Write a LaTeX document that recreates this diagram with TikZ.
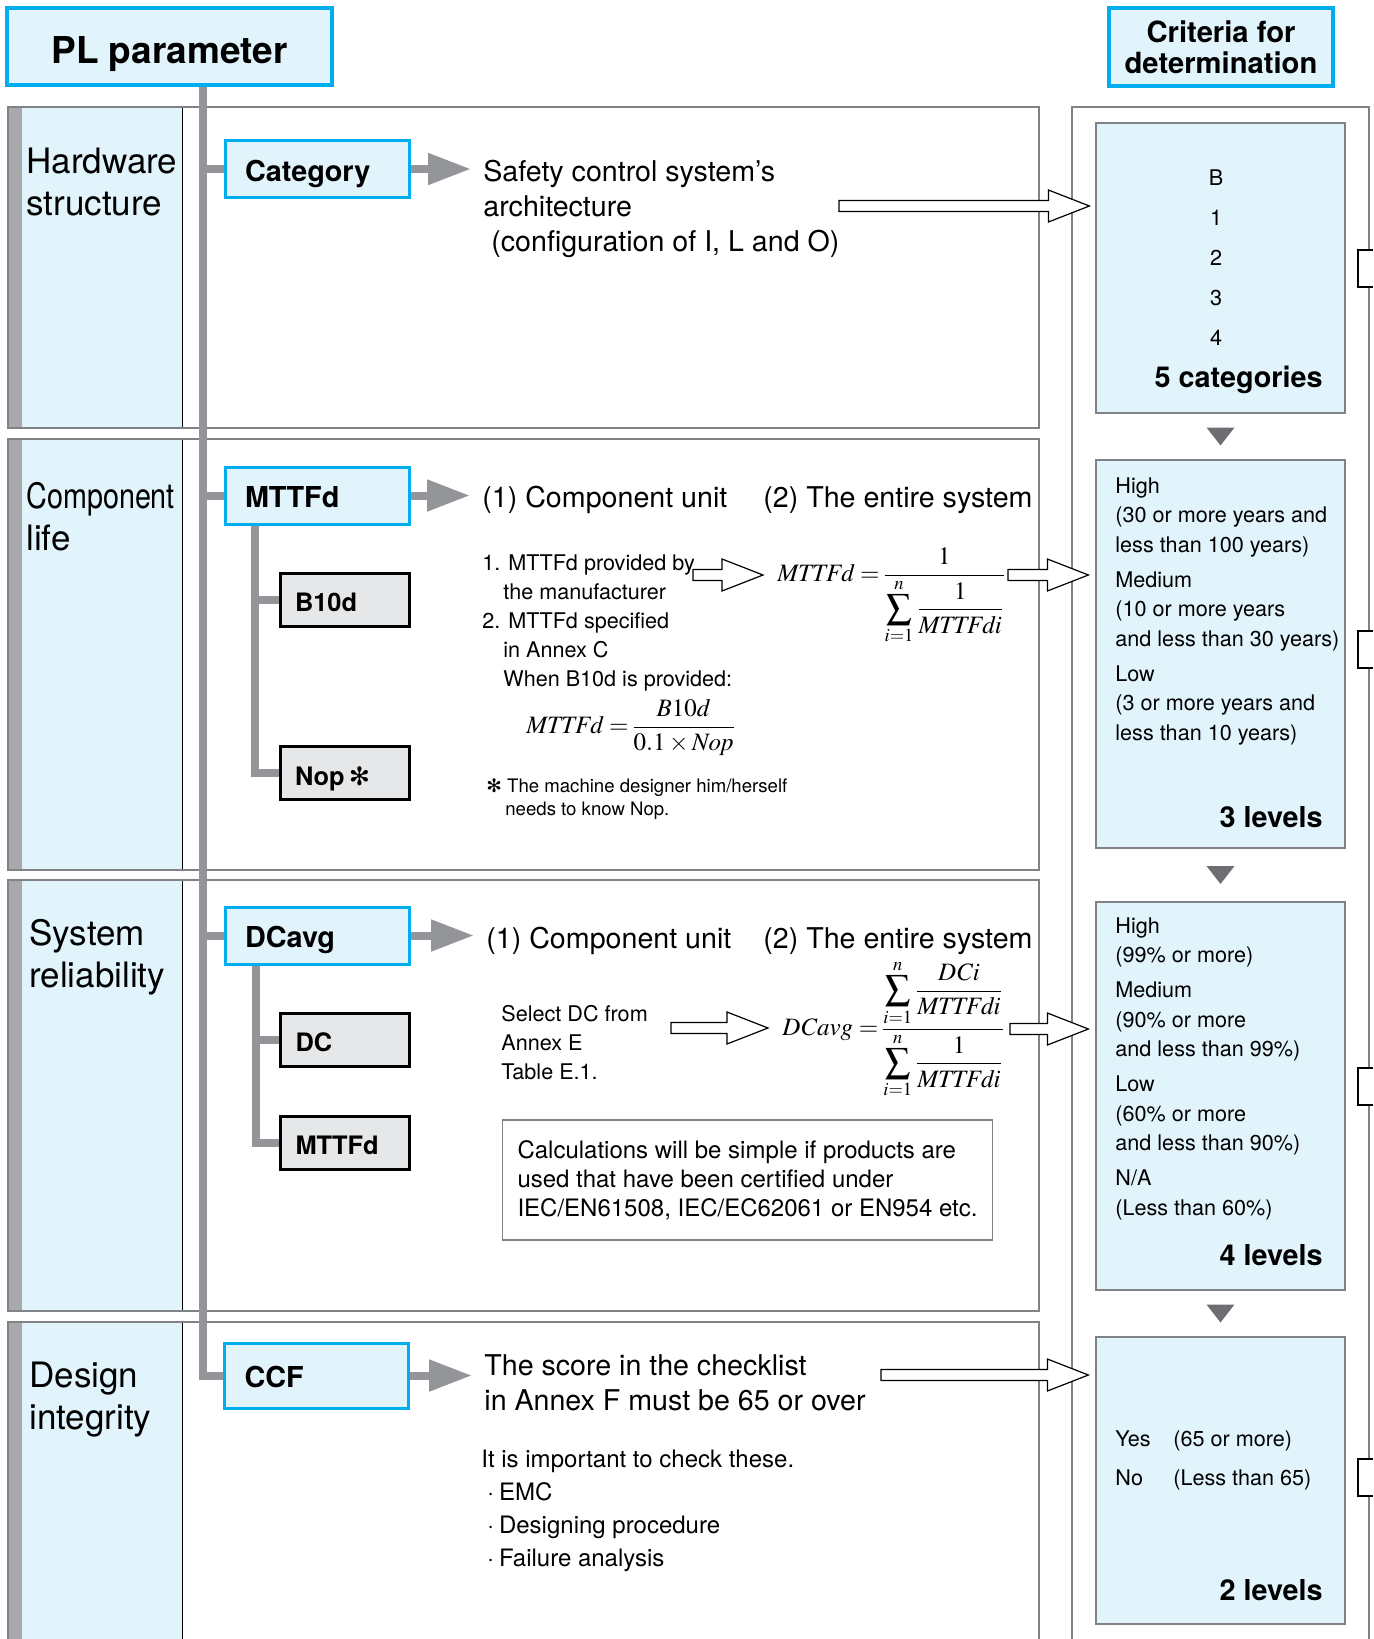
\documentclass[tikz,border=0pt]{standalone}
\usepackage{amsmath}
\usepackage{mathptmx}
\usepackage[no-math]{fontspec}
\setmainfont{TeX Gyre Heros}
\newfontfamily\symfont{DejaVu Sans}
\usepackage{graphicx}
\usetikzlibrary{arrows.meta,calc,backgrounds}

\definecolor{plcyan}{RGB}{0,174,239}
\definecolor{plfill}{RGB}{225,243,251}
\definecolor{bargray}{RGB}{167,169,172}
\definecolor{trunkgray}{RGB}{147,149,152}
\definecolor{boxgray}{RGB}{230,231,232}
\definecolor{framegray}{RGB}{128,130,133}
\definecolor{trigray}{RGB}{109,110,113}

\tikzset{
  headbox/.style={draw=plcyan, line width=1.75pt, fill=plfill, font=\fontsize{18.5}{21}\selectfont\bfseries},
  parbox/.style={draw=plcyan, line width=1.5pt, fill=plfill, font=\fontsize{14.4}{17}\selectfont\bfseries,
    text width=72pt, align=left, inner xsep=10pt, minimum height=28.5pt, text height=12pt, text depth=0pt},
  subbox/.style={draw=black, line width=1.5pt, fill=boxgray, font=\fontsize{12.7}{15}\selectfont\bfseries,
    text width=49.5pt, align=left, inner xsep=7.5pt, minimum height=26.5pt, text height=12pt, text depth=0pt},
  critbox/.style={draw=framegray, line width=0.6pt, fill=plfill, minimum width=124.5pt},
  crittext/.style={font=\fontsize{10.8}{14.75}\selectfont, inner sep=0pt},
  rowlabel/.style={font=\fontsize{17.5}{21}\selectfont, align=left, anchor=north west, inner sep=0pt},
  bigtext/.style={font=\fontsize{14.3}{17.5}\selectfont, align=left, anchor=north west, inner sep=0pt},
  bigline/.style={font=\fontsize{14.3}{17.5}\selectfont, anchor=base west, inner sep=0pt},
  midtext/.style={font=\fontsize{12}{16.5}\selectfont, align=left, anchor=north west, inner sep=0pt},
  smalltext/.style={font=\fontsize{10.8}{14.5}\selectfont, align=left, anchor=north west, inner sep=0pt},
  foot/.style={font=\fontsize{9.3}{11.5}\selectfont, align=left, anchor=north west, inner sep=0pt},
  formula/.style={font=\fontsize{12.5}{15}\selectfont, anchor=base west, inner sep=0pt},
  levels/.style={font=\fontsize{14.4}{17}\selectfont\bfseries, anchor=base east, inner sep=0pt},
  notebox/.style={draw=framegray, line width=0.6pt, font=\fontsize{12}{14.5}\selectfont, align=left,
    minimum width=244.5pt, minimum height=60pt, inner xsep=7.5pt},
  trunk/.style={draw=trunkgray, line width=4pt},
  grayarrow/.style={trunkgray, line width=4pt, -{Triangle[length=21.5pt,width=15pt]}, shorten >=6pt},
  hollow/.style={draw=black, fill=white, line width=0.6pt},
}

% hollow block arrow: [gap before the end]{start}{end}
\newcommand\hollowarrow[3][3pt]{%
  \draw[hollow] let \p1=#2, \p2=#3 in
    (\x1,\y1+2.75pt) -- (\x2-#1-20.5pt,\y1+2.75pt) -- (\x2-#1-20.5pt,\y1+8pt)
    -- (\x2-#1,\y1) -- (\x2-#1-20.5pt,\y1-8pt) -- (\x2-#1-20.5pt,\y1-2.75pt)
    -- (\x1,\y1-2.75pt) -- cycle;}
\newcommand\eq{\;{=}\,}

\begin{document}
\begin{tikzpicture}[x=0.5pt,y=-0.5pt]
\useasboundingbox (0,0) rectangle (1373,1639);

% headings
\node[headbox, minimum width=162.5pt, minimum height=38.5pt, text height=16.5pt, text depth=0pt] (pl) at (169.5,46.5) {PL parameter};
\node[headbox, font=\fontsize{14.6}{15.5}\selectfont\bfseries, align=center, minimum width=112pt, minimum height=39pt, inner sep=0pt] (crit) at (1221,47) {Criteria for\\determination};

% parameters
\node[parbox] (cat) at (317,169) {Category};
\node[parbox] (mttf) at (317,495.5) {MTTFd};
\node[parbox] (dcavg) at (317,935.5) {DCavg};
\node[parbox, minimum height=32.5pt] (ccf) at (316.5,1375.5) {CCF};
\node[subbox] (b10d) at (344.5,599.5) {B10d};
\node[subbox] (nop) at (344.5,773) {Nop\,{\symfont ✻}};
\node[subbox] (dc) at (345,1039.5) {DC};
\node[subbox] (mttfb) at (345,1142.5) {MTTFd};

% row labels
\node[rowlabel] (lab1) at (26,147.5) {Hardware\\structure};
\node[rowlabel] (lab2) at (26,481.5) {\scalebox{0.82}[1]{Component}\\life};
\node[rowlabel] (lab3) at (29,918.5) {System\\reliability};
\node[rowlabel] (lab4) at (29,1361.5) {Design\\integrity};

% hardware structure
\node[bigtext] (archi) at (483,159.3) {Safety control system's\\architecture\\\hspace*{4pt}(configuration of I, L and O)};
\coordinate (q1) at (839,206);

% component life
\node[bigline] (unit1) at (482,507) {(1) Component unit};
\node[bigline] (sys1) at (763,507) {(2) The entire system};
\node[smalltext] (given) at (482,554.2) {1. MTTFd provided by\\\hspace*{10.5pt}the manufacturer\\2. MTTFd specified\\\hspace*{10.5pt}in Annex C\\\hspace*{10.5pt}When B10d is provided:};
\node[formula] (f1) at (526,733.5) {$\mathit{MTTFd}\eq\dfrac{B10d}{0.1\times \mathit{Nop}}$};
\node[foot] (note1) at (486,778.4) {{\symfont ✻} The machine designer him/herself\\\hspace*{9.5pt}needs to know Nop.};
\node[formula] (f2) at (777,581.5) {$\mathit{MTTFd}\eq\dfrac{1}{\displaystyle\sum_{i=1}^{n}\frac{1}{\mathit{MTTFdi}}}$};
\coordinate (q2) at (693,575);
\coordinate (q3) at (1008,575);

% system reliability
\node[bigline] (unit2) at (486,948) {(1) Component unit};
\node[bigline] (sys2) at (763,948) {(2) The entire system};
\node[smalltext] (select) at (501,1005.2) {Select DC from\\Annex E\\Table E.1.};
\node[formula] (f3) at (782,1035.5) {$\mathit{DCavg}\eq\dfrac{\displaystyle\sum_{i=1}^{n}\frac{\mathit{DCi}}{\mathit{MTTFdi}}}{\displaystyle\sum_{i=1}^{n}\frac{1}{\mathit{MTTFdi}}}$};
\coordinate (q4) at (671,1028);
\coordinate (q5) at (1010,1029);
\node[notebox] (cert) at (747.5,1180) {Calculations will be simple if products are\\used that have been certified under\\IEC/EN61508, IEC/EC62061 or EN954 etc.};

% design integrity
\node[bigtext] (score) at (484,1354.3) {The score in the checklist\\in Annex F must be 65 or over};
\node[midtext] (check) at (481,1449.5) {It is important to check these.\\\hspace*{3pt}·\hspace{2.5pt}EMC\\\hspace*{3pt}·\hspace{2.5pt}Designing procedure\\\hspace*{3pt}·\hspace{2.5pt}Failure analysis};
\coordinate (q6) at (881,1375);

% criteria
\node[critbox, minimum height=145pt] (cr1) at (1220.5,268) {};
\node[critbox, minimum height=194pt] (cr2) at (1220.5,654) {};
\node[critbox, minimum height=194pt] (cr3) at (1220.5,1096) {};
\node[critbox, minimum height=143.5pt] (cr4) at (1220.5,1480.5) {};
\foreach \c [count=\i] in {B,1,2,3,4}
  \node[crittext, anchor=base] (k\i) at (1216,145+40*\i) {\c};
\node[levels] (lv1) at (1323,387) {5 categories};
\node[crittext, align=left, anchor=north west] (mtl) at (1115,477.2) {High\\(30 or more years and\\less than 100 years)\\[2.75pt]Medium\\(10 or more years\\and less than 30 years)\\[2.75pt]Low\\(3 or more years and\\less than 10 years)};
\node[levels] (lv2) at (1323,827) {3 levels};
\node[crittext, align=left, anchor=north west] (dcl) at (1115,917.2) {High\\(99\% or more)\\[2.75pt]Medium\\(90\% or more\\and less than 99\%)\\[2.75pt]Low\\(60\% or more\\and less than 90\%)\\[2.75pt]N/A\\(Less than 60\%)};
\node[levels] (lv3) at (1323,1265) {4 levels};
\node[crittext, align=left, anchor=north west] (yn) at (1115,1430.2) {\makebox[29pt][l]{Yes}(65 or more)\\[4.75pt]\makebox[29pt][l]{No}(Less than 65)};
\node[levels] (lv4) at (1323,1600) {2 levels};
\foreach \a/\b in {cr1/cr2,cr2/cr3,cr3/cr4}
  \fill[trigray] ($(\a.south)!.5!(\b.north)+(-7pt,4.5pt)$) -- ++(14pt,0) -- ++(-7pt,-9pt) -- cycle;

% arrows
\draw[grayarrow] (cat.east) -- (cat.east -| archi.west);
\draw[grayarrow] (mttf.east) -- (mttf.east -| unit1.west);
\draw[grayarrow] (dcavg.east) -- (dcavg.east -| unit2.west);
\draw[grayarrow] (ccf.east) -- (ccf.east -| score.west);
\hollowarrow{(q1)}{(cr1.west)}
\hollowarrow[7pt]{(q2)}{(f2.west)}
\hollowarrow[3.5pt]{(q3)}{(cr2.west)}
\hollowarrow[7pt]{(q4)}{(f3.west)}
\hollowarrow[3.5pt]{(q5)}{(cr3.west)}
\hollowarrow[3.5pt]{(q6)}{(cr4.west)}

\begin{scope}[on background layer]
% row panels
\foreach \t/\b in {107/428,439/870,880/1311,1322/1639} {
  \fill[plfill] (22,\t) rectangle (182,\b);
  \fill[bargray] (8,\t) rectangle (22,\b);
  \draw[line width=0.5pt] (182,\t) -- (182,\b);
}
\foreach \t/\b in {107/428,439/870,880/1311}
  \draw[framegray, line width=0.75pt] (8,\t) rectangle (1039,\b);
\draw[framegray, line width=0.75pt] (8,1639) |- (1039,1322) -- (1039,1639);
\draw[framegray, line width=0.6pt] (1072,1639) |- (1369,107) -- (1369,1639);
\foreach \t in {250,631,1068,1459}
  \draw[fill=white, line width=0.6pt] (1373,\t) -| (1358,\t+37) -- (1373,\t+37);
% tree
\coordinate (trunk) at (203,85);
\draw[trunk] (trunk) |- (ccf.west);
\foreach \n in {cat,mttf,dcavg}
  \draw[trunk] (trunk |- \n.west) -- (\n.west);
\coordinate (sub1) at ([xshift=15.75pt]mttf.south west);
\draw[trunk] (sub1) |- (nop.west);
\draw[trunk] (sub1 |- b10d.west) -- (b10d.west);
\coordinate (sub2) at ([xshift=16pt]dcavg.south west);
\draw[trunk] (sub2) |- (mttfb.west);
\draw[trunk] (sub2 |- dc.west) -- (dc.west);
\end{scope}
\end{tikzpicture}
\end{document}
